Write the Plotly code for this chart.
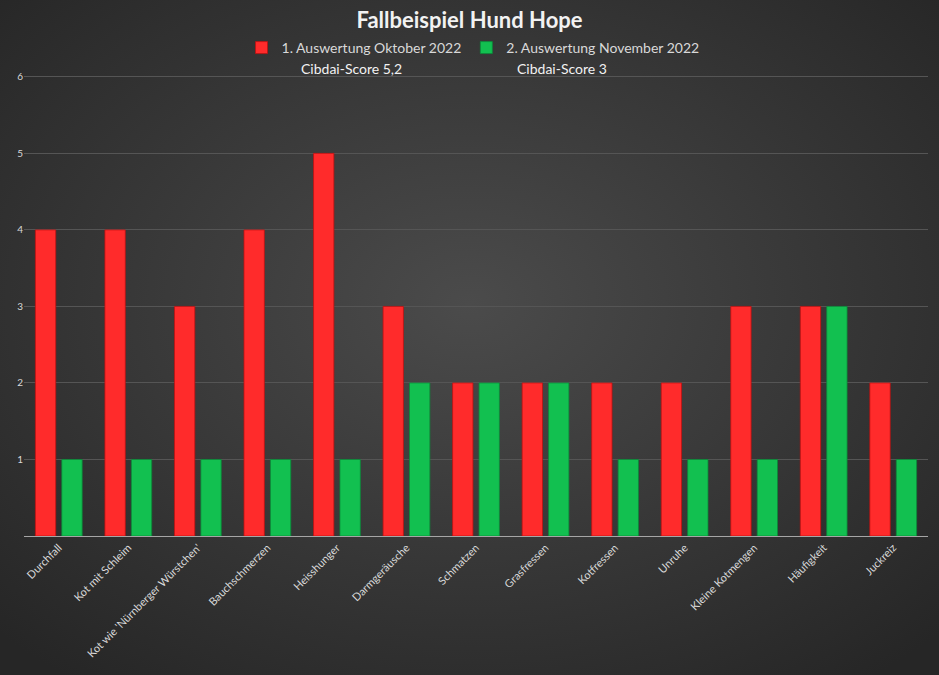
import base64
import plotly.graph_objects as go

categories = ["Durchfall", "Kot mit Schleim", "Kot wie 'Nürnberger Würstchen'",
              "Bauchschmerzen", "Heisshunger", "Darmgeräusche", "Schmatzen",
              "Grasfressen", "Kotfressen", "Unruhe", "Kleine Kotmengen",
              "Häufigkeit", "Juckreiz"]
oktober = [4, 4, 3, 4, 5, 3, 2, 2, 2, 2, 3, 3, 2]
november = [1, 1, 1, 1, 1, 2, 2, 2, 1, 1, 1, 3, 1]
series_names = ["1. Auswertung Oktober 2022", "2. Auswertung November 2022"]
scores = ["Cibdai-Score 5,2", "Cibdai-Score 3"]

FONT = "Lato"
W, H = 939, 675
L, R, T, B = 24, 11, 73, 139
pw, ph = W - L - R, H - T - B

# dark radial background as an svg image
svg = ('<svg xmlns="http://www.w3.org/2000/svg" width="939" height="675">'
       '<defs><radialGradient id="g" cx="50%" cy="45%" r="70%">'
       '<stop offset="0%" stop-color="#4b4b4b"/>'
       '<stop offset="100%" stop-color="#262626"/></radialGradient></defs>'
       '<rect width="939" height="675" fill="url(#g)"/></svg>')
bg = "data:image/svg+xml;base64," + base64.b64encode(svg.encode()).decode()

fig = go.Figure()
fig.add_trace(go.Bar(x=categories, y=oktober, name=series_names[0],
                     marker=dict(color="#ff2b2b", line=dict(color="#c01010", width=0.8))))
fig.add_trace(go.Bar(x=categories, y=november, name=series_names[1],
                     marker=dict(color="#12c050", line=dict(color="#0a8a38", width=0.8))))

fig.add_layout_image(dict(source=bg, xref="paper", yref="paper",
                          x=-L / pw, y=1 + T / ph, sizex=W / pw, sizey=H / ph,
                          xanchor="left", yanchor="top",
                          sizing="stretch", layer="below"))

for txt, xp in zip(scores, [0.362, 0.595]):
    fig.add_annotation(text=txt, x=xp, y=1 + (T - 69) / ph, xref="paper", yref="paper",
                       xanchor="center", yanchor="middle", showarrow=False,
                       font=dict(family=FONT, size=14, color="#f2f2f2"))

fig.update_layout(
    width=W, height=H,
    paper_bgcolor="#333333", plot_bgcolor="rgba(0,0,0,0)",
    margin=dict(l=L, r=R, t=T, b=B),
    title=dict(text="<b>Fallbeispiel Hund Hope</b>", x=0.5, xanchor="center",
               y=1 - 20 / H, yanchor="middle",
               font=dict(family=FONT, size=22, color="#f2f2f2")),
    legend=dict(orientation="h", x=0.4967, xanchor="center", y=1 + (T - 48) / ph,
                yanchor="middle",
                font=dict(family=FONT, size=14, color="#d9d9d9"),
                bgcolor="rgba(0,0,0,0)", itemwidth=30, tracegroupgap=0),
    bargap=0.24, bargroupgap=0.23,
    xaxis=dict(tickangle=-45, tickfont=dict(family=FONT, size=11, color="#d9d9d9"),
               showline=True, linecolor="#a6a6a6", linewidth=1, ticks="",
               showgrid=False),
    yaxis=dict(range=[0, 6.05], zeroline=False,
               gridcolor="#555555", gridwidth=1,
               tickfont=dict(family=FONT, size=10, color="#d9d9d9"),
               tickvals=[1, 2, 3, 4, 5, 6]),
)

fig.write_html("out.html", config={"displayModeBar": False},
               post_script="document.body.style.margin='0';")
